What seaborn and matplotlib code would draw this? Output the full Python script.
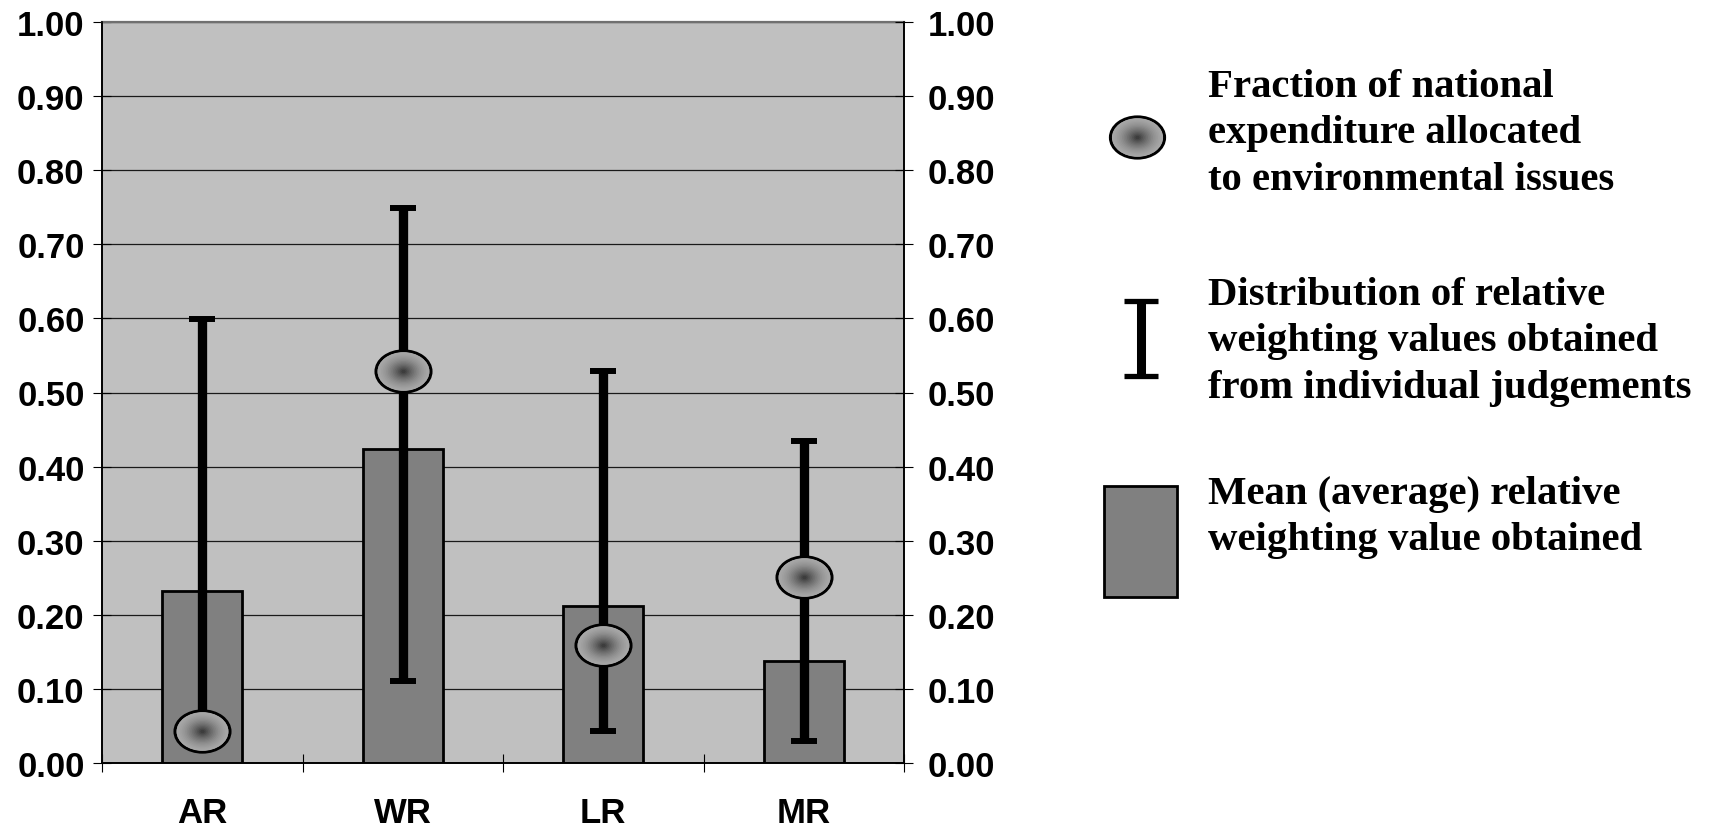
import numpy as np
import pandas as pd
import matplotlib
matplotlib.use("Agg")
import matplotlib.pyplot as plt
import seaborn as sns
from matplotlib.path import Path
from matplotlib.transforms import Affine2D
from matplotlib.patches import Rectangle
from matplotlib.ticker import FormatStrFormatter, MultipleLocator

# === Data ===
categories = ["AR", "WR", "LR", "MR"]
mean_weight = [0.232, 0.424, 0.212, 0.137]     # grey bars
range_low = [0.050, 0.110, 0.043, 0.030]       # error bar bottom
range_high = [0.599, 0.749, 0.529, 0.434]      # error bar top
expenditure = [0.043, 0.529, 0.159, 0.251]     # shaded ellipses

legend_labels = [
    "Fraction of national\nexpenditure allocated\nto environmental issues",
    "Distribution of relative\nweighting values obtained\nfrom individual judgements",
    "Mean (average) relative\nweighting value obtained",
]

df = pd.DataFrame({
    "region": categories,
    "mean": mean_weight,
    "low": range_low,
    "high": range_high,
    "spend": expenditure,
})

sns.set_theme(style="white")
plt.rcParams["font.family"] = ["Liberation Sans", "DejaVu Sans"]
plt.rcParams["font.weight"] = "bold"

W, H = 1709, 828
fig = plt.figure(figsize=(W / 100, H / 100), dpi=100)
ax = fig.add_axes([102 / W, 1 - 764 / H, (904 - 102) / W, (764 - 23) / H])
ax.set_facecolor("#c0c0c0")
ax.set_axisbelow(True)
ax.yaxis.grid(True, color="#1a1a1a", linewidth=0.9)

# bars
sns.barplot(data=df, x="region", y="mean", color="#808080", saturation=1,
            width=0.4, edgecolor="black", linewidth=2, ax=ax, zorder=2)

# range of individual judgements
xpos = np.arange(len(categories))
mid = (df["low"] + df["high"]) / 2
half = (df["high"] - df["low"]) / 2
ax.errorbar(xpos, mid, yerr=half, fmt="none", ecolor="black",
            elinewidth=6.7, capsize=9.7, capthick=4.3, zorder=3)


# shaded ellipse marker (radial gradient made of stacked markers)
def shaded_ellipse(axis, x, y, size, aspect, z):
    path = Path.unit_circle().transformed(Affine2D().scale(1, aspect))
    n = 16
    for i, f in enumerate(np.linspace(1, 0.08, n)):
        g = 0.66 - 0.42 * (i / (n - 1)) ** 1.6
        col = (g, g, g)
        axis.plot(x, y, ls="none", marker=path, ms=size * f, mfc=col,
                  mec="black" if i == 0 else col, mew=2.2 if i == 0 else 0,
                  zorder=z + i * 0.01)


shaded_ellipse(ax, xpos, df["spend"], 39.6, 0.75, 4)

# axes styling
ax.set_ylim(0, 1)
ax.set_xlim(-0.5, len(categories) - 0.5)
ax.yaxis.set_major_locator(MultipleLocator(0.1))
ax.yaxis.set_major_formatter(FormatStrFormatter("%.2f"))
ax.set_xlabel("")
ax.set_ylabel("")
ax.tick_params(axis="y", which="major", direction="inout", length=12.5,
               width=0.8, pad=6.3, labelsize=25, left=True, right=False,
               labelleft=True, labelright=False, colors="black")
ax.set_xticks(np.arange(-0.5, len(categories)), minor=True)
ax.tick_params(axis="x", which="major", length=0, pad=24, labelsize=25,
               colors="black")
ax.tick_params(axis="x", which="minor", direction="inout", length=13,
               width=0.8, bottom=True, colors="black")
for side in ["left", "right", "bottom"]:
    ax.spines[side].set_color("black")
    ax.spines[side].set_linewidth(1.2)
ax.spines["top"].set_color("#707070")
ax.spines["top"].set_linewidth(1.6)

# duplicate value axis on the right
ax2 = ax.twinx()
ax2.set_ylim(ax.get_ylim())
ax2.yaxis.set_major_locator(MultipleLocator(0.1))
ax2.yaxis.set_major_formatter(FormatStrFormatter("%.2f"))
ax2.tick_params(axis="y", which="major", direction="inout", length=12.5,
                width=0.8, pad=11, labelsize=25, right=True, colors="black")
for side in ["left", "right", "bottom"]:
    ax2.spines[side].set_color("black")
    ax2.spines[side].set_linewidth(1.2)
ax2.spines["top"].set_visible(False)

# === Legend drawn on an overlay in pixel units ===
lax = fig.add_axes([0, 0, 1, 1])
lax.set_xlim(0, W)
lax.set_ylim(H, 0)
lax.axis("off")
lax.patch.set_visible(False)

shaded_ellipse(lax, [1137], [138], 39, 0.76, 4)
lax.errorbar([1141], [339.5], yerr=[37.5], fmt="none", ecolor="black",
             elinewidth=6.5, capsize=11.9, capthick=3.8)
lax.add_patch(Rectangle((1104, 487), 73, 111, fc="#808080", ec="black", lw=2))

first_baselines = [97, 305, 504]
for label, y0 in zip(legend_labels, first_baselines):
    for k, line in enumerate(label.split("\n")):
        lax.text(1208, y0 + 46.5 * k, line, family=["Liberation Serif", "DejaVu Serif"],
                 fontweight="bold", fontsize=29.3, va="baseline", ha="left",
                 color="black")

fig.savefig("out.png", dpi=100)
